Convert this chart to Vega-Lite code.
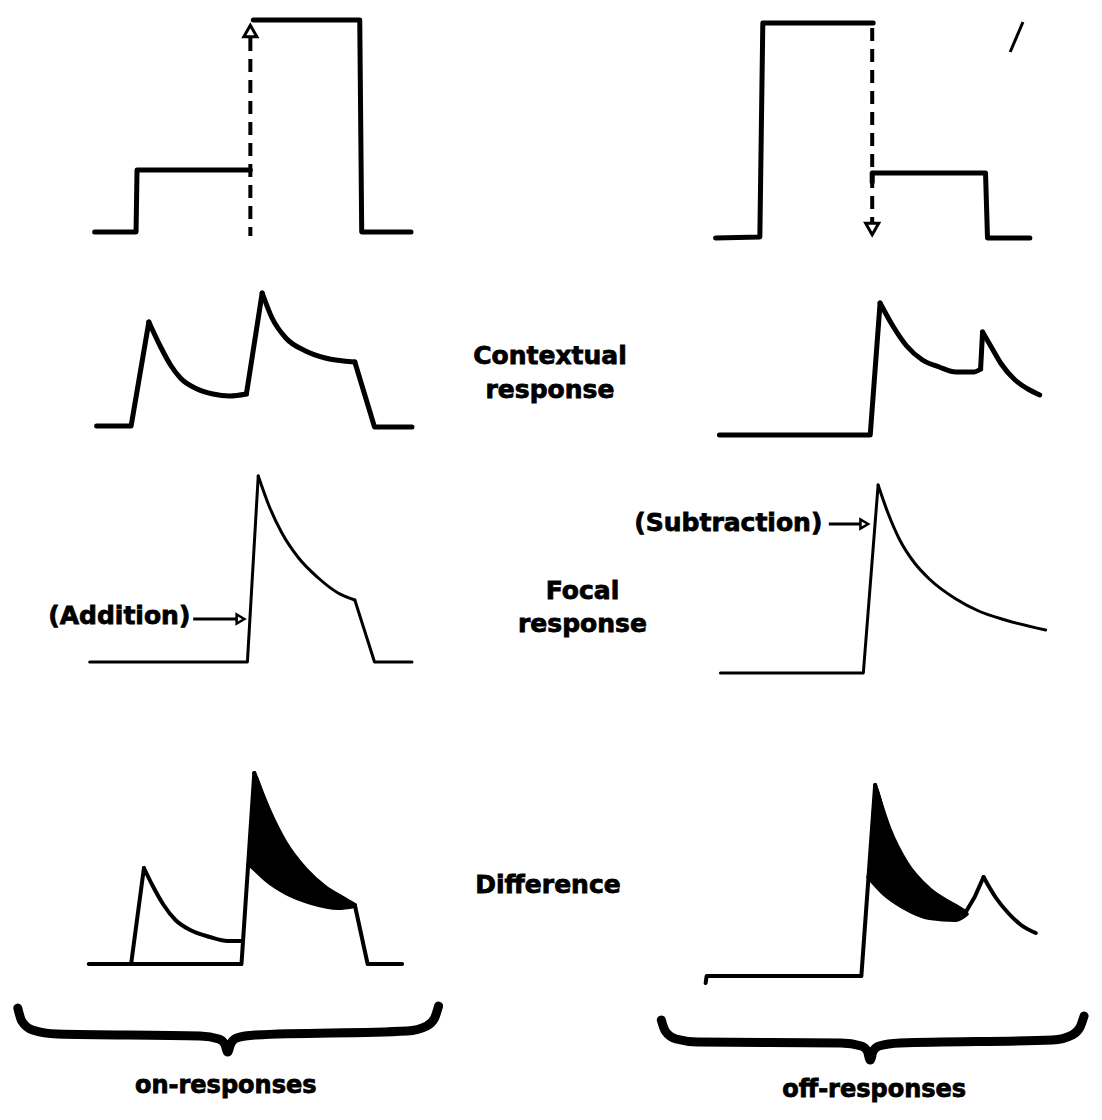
{
  "$schema": "https://vega.github.io/schema/vega-lite/v6.json",
  "width": 1102,
  "height": 1120,
  "autosize": {"type": "fit", "contains": "padding"},
  "padding": 0,
  "background": "white",
  "config": {"view": {"stroke": null}},
  "datasets": {
    "lines": [
      {"g": "w5", "s": "stimL1", "o": 1, "x": 93, "y": 232},
      {"g": "w5", "s": "stimL1", "o": 2, "x": 135, "y": 232},
      {"g": "w5", "s": "stimL1", "o": 3, "x": 136, "y": 170},
      {"g": "w5", "s": "stimL1", "o": 4, "x": 251, "y": 170},
      {"g": "w5", "s": "stimL2", "o": 1, "x": 254, "y": 20},
      {"g": "w5", "s": "stimL2", "o": 2, "x": 362, "y": 20},
      {"g": "w5", "s": "stimL2", "o": 3, "x": 364, "y": 232},
      {"g": "w5", "s": "stimL2", "o": 4, "x": 414, "y": 232},
      {"g": "w5", "s": "stimR1", "o": 1, "x": 723, "y": 238},
      {"g": "w5", "s": "stimR1", "o": 2, "x": 768, "y": 237},
      {"g": "w5", "s": "stimR1", "o": 3, "x": 771, "y": 23},
      {"g": "w5", "s": "stimR1", "o": 4, "x": 883, "y": 23},
      {"g": "w5", "s": "stimR2", "o": 1, "x": 882, "y": 182},
      {"g": "w5", "s": "stimR2", "o": 2, "x": 882, "y": 173},
      {"g": "w5", "s": "stimR2", "o": 3, "x": 997, "y": 173},
      {"g": "w5", "s": "stimR2", "o": 4, "x": 999, "y": 238},
      {"g": "w5", "s": "stimR2", "o": 5, "x": 1042, "y": 238},

      {"g": "w5", "s": "ctxLa", "o": 1, "x": 95, "y": 426},
      {"g": "w5", "s": "ctxLa", "o": 2, "x": 130, "y": 426},
      {"g": "w5", "s": "ctxLa", "o": 3, "x": 148, "y": 322},
      {"g": "w5", "s": "ctxLb", "o": 1, "x": 247, "y": 394},
      {"g": "w5", "s": "ctxLb", "o": 2, "x": 263, "y": 293},
      {"g": "w5", "s": "ctxLc", "o": 1, "x": 357, "y": 362},
      {"g": "w5", "s": "ctxLc", "o": 2, "x": 377, "y": 427},
      {"g": "w5", "s": "ctxLc", "o": 3, "x": 415, "y": 427},
      {"g": "c5", "s": "ctxLd1", "o": 1, "x": 148, "y": 322},
      {"g": "c5", "s": "ctxLd1", "o": 2, "x": 160, "y": 347},
      {"g": "c5", "s": "ctxLd1", "o": 3, "x": 170, "y": 365},
      {"g": "c5", "s": "ctxLd1", "o": 4, "x": 180, "y": 378},
      {"g": "c5", "s": "ctxLd1", "o": 5, "x": 197, "y": 389},
      {"g": "c5", "s": "ctxLd1", "o": 6, "x": 213, "y": 394},
      {"g": "c5", "s": "ctxLd1", "o": 7, "x": 230, "y": 396},
      {"g": "c5", "s": "ctxLd1", "o": 8, "x": 247, "y": 394},
      {"g": "c5", "s": "ctxLd2", "o": 1, "x": 263, "y": 293},
      {"g": "c5", "s": "ctxLd2", "o": 2, "x": 273, "y": 318},
      {"g": "c5", "s": "ctxLd2", "o": 3, "x": 287, "y": 338},
      {"g": "c5", "s": "ctxLd2", "o": 4, "x": 307, "y": 351},
      {"g": "c5", "s": "ctxLd2", "o": 5, "x": 327, "y": 358},
      {"g": "c5", "s": "ctxLd2", "o": 6, "x": 357, "y": 362},

      {"g": "w5", "s": "ctxRa", "o": 1, "x": 727, "y": 435},
      {"g": "w5", "s": "ctxRa", "o": 2, "x": 880, "y": 435},
      {"g": "w5", "s": "ctxRa", "o": 3, "x": 890, "y": 303},
      {"g": "w5", "s": "ctxRb", "o": 1, "x": 992, "y": 369},
      {"g": "w5", "s": "ctxRb", "o": 2, "x": 994, "y": 332},
      {"g": "c5", "s": "ctxRd1", "o": 1, "x": 890, "y": 303},
      {"g": "c5", "s": "ctxRd1", "o": 2, "x": 903, "y": 326},
      {"g": "c5", "s": "ctxRd1", "o": 3, "x": 917, "y": 346},
      {"g": "c5", "s": "ctxRd1", "o": 4, "x": 933, "y": 360},
      {"g": "c5", "s": "ctxRd1", "o": 5, "x": 950, "y": 367},
      {"g": "c5", "s": "ctxRd1", "o": 6, "x": 967, "y": 372},
      {"g": "c5", "s": "ctxRd1", "o": 7, "x": 985, "y": 372},
      {"g": "c5", "s": "ctxRd1", "o": 8, "x": 992, "y": 369},
      {"g": "c5", "s": "ctxRd2", "o": 1, "x": 994, "y": 332},
      {"g": "c5", "s": "ctxRd2", "o": 2, "x": 1004, "y": 349},
      {"g": "c5", "s": "ctxRd2", "o": 3, "x": 1013, "y": 364},
      {"g": "c5", "s": "ctxRd2", "o": 4, "x": 1027, "y": 380},
      {"g": "c5", "s": "ctxRd2", "o": 5, "x": 1040, "y": 389},
      {"g": "c5", "s": "ctxRd2", "o": 6, "x": 1052, "y": 395},

      {"g": "w3", "s": "focLa", "o": 1, "x": 88, "y": 662},
      {"g": "w3", "s": "focLa", "o": 2, "x": 248, "y": 662},
      {"g": "w3", "s": "focLa", "o": 3, "x": 259, "y": 476},
      {"g": "w3", "s": "focLb", "o": 1, "x": 357, "y": 600},
      {"g": "w3", "s": "focLb", "o": 2, "x": 377, "y": 662},
      {"g": "w3", "s": "focLb", "o": 3, "x": 415, "y": 662},
      {"g": "c3", "s": "focLd", "o": 1, "x": 259, "y": 476},
      {"g": "c3", "s": "focLd", "o": 2, "x": 270, "y": 506},
      {"g": "c3", "s": "focLd", "o": 3, "x": 283, "y": 533},
      {"g": "c3", "s": "focLd", "o": 4, "x": 300, "y": 558},
      {"g": "c3", "s": "focLd", "o": 5, "x": 320, "y": 578},
      {"g": "c3", "s": "focLd", "o": 6, "x": 340, "y": 593},
      {"g": "c3", "s": "focLd", "o": 7, "x": 357, "y": 600},

      {"g": "w3", "s": "focRa", "o": 1, "x": 728, "y": 673},
      {"g": "w3", "s": "focRa", "o": 2, "x": 873, "y": 673},
      {"g": "w3", "s": "focRa", "o": 3, "x": 888, "y": 485},
      {"g": "c3", "s": "focRd", "o": 1, "x": 888, "y": 485},
      {"g": "c3", "s": "focRd", "o": 2, "x": 898, "y": 513},
      {"g": "c3", "s": "focRd", "o": 3, "x": 910, "y": 540},
      {"g": "c3", "s": "focRd", "o": 4, "x": 925, "y": 563},
      {"g": "c3", "s": "focRd", "o": 5, "x": 940, "y": 579},
      {"g": "c3", "s": "focRd", "o": 6, "x": 967, "y": 599},
      {"g": "c3", "s": "focRd", "o": 7, "x": 990, "y": 611},
      {"g": "c3", "s": "focRd", "o": 8, "x": 1017, "y": 620},
      {"g": "c3", "s": "focRd", "o": 9, "x": 1058, "y": 630},

      {"g": "w4", "s": "difLa", "o": 1, "x": 87, "y": 964},
      {"g": "w4", "s": "difLa", "o": 2, "x": 242, "y": 964},
      {"g": "w4", "s": "difLa", "o": 3, "x": 255, "y": 773},
      {"g": "w4", "s": "difLb", "o": 1, "x": 357, "y": 905},
      {"g": "w4", "s": "difLb", "o": 2, "x": 370, "y": 964},
      {"g": "w4", "s": "difLb", "o": 3, "x": 405, "y": 964},
      {"g": "w4", "s": "difLc", "o": 1, "x": 130, "y": 964},
      {"g": "w4", "s": "difLc", "o": 2, "x": 143, "y": 868},
      {"g": "c4", "s": "difLu", "o": 1, "x": 255, "y": 773},
      {"g": "c4", "s": "difLu", "o": 2, "x": 270, "y": 810},
      {"g": "c4", "s": "difLu", "o": 3, "x": 287, "y": 843},
      {"g": "c4", "s": "difLu", "o": 4, "x": 307, "y": 869},
      {"g": "c4", "s": "difLu", "o": 5, "x": 327, "y": 887},
      {"g": "c4", "s": "difLu", "o": 6, "x": 345, "y": 898},
      {"g": "c4", "s": "difLu", "o": 7, "x": 357, "y": 905},
      {"g": "c4", "s": "difLbump", "o": 1, "x": 143, "y": 868},
      {"g": "c4", "s": "difLbump", "o": 2, "x": 152, "y": 886},
      {"g": "c4", "s": "difLbump", "o": 3, "x": 163, "y": 905},
      {"g": "c4", "s": "difLbump", "o": 4, "x": 175, "y": 920},
      {"g": "c4", "s": "difLbump", "o": 5, "x": 190, "y": 930},
      {"g": "c4", "s": "difLbump", "o": 6, "x": 210, "y": 937},
      {"g": "c4", "s": "difLbump", "o": 7, "x": 228, "y": 941},
      {"g": "c4", "s": "difLbump", "o": 8, "x": 243, "y": 941},
      {"g": "c4", "s": "difLl", "o": 1, "x": 249, "y": 864},
      {"g": "c4", "s": "difLl", "o": 2, "x": 255, "y": 869},
      {"g": "c4", "s": "difLl", "o": 3, "x": 267, "y": 880},
      {"g": "c4", "s": "difLl", "o": 4, "x": 287, "y": 893},
      {"g": "c4", "s": "difLl", "o": 5, "x": 313, "y": 903},
      {"g": "c4", "s": "difLl", "o": 6, "x": 340, "y": 908},
      {"g": "c4", "s": "difLl", "o": 7, "x": 357, "y": 906},

      {"g": "w4", "s": "difRa", "o": 1, "x": 713, "y": 983},
      {"g": "w4", "s": "difRa", "o": 2, "x": 714, "y": 976},
      {"g": "w4", "s": "difRa", "o": 3, "x": 871, "y": 976},
      {"g": "w4", "s": "difRa", "o": 4, "x": 885, "y": 785},
      {"g": "w4", "s": "difRb", "o": 1, "x": 977, "y": 912},
      {"g": "w4", "s": "difRb", "o": 2, "x": 986, "y": 897},
      {"g": "w4", "s": "difRb", "o": 3, "x": 995, "y": 877},
      {"g": "c4", "s": "difRu", "o": 1, "x": 885, "y": 785},
      {"g": "c4", "s": "difRu", "o": 2, "x": 900, "y": 830},
      {"g": "c4", "s": "difRu", "o": 3, "x": 917, "y": 863},
      {"g": "c4", "s": "difRu", "o": 4, "x": 940, "y": 889},
      {"g": "c4", "s": "difRu", "o": 5, "x": 967, "y": 906},
      {"g": "c4", "s": "difRu", "o": 6, "x": 977, "y": 912},
      {"g": "c4", "s": "difRd", "o": 1, "x": 995, "y": 877},
      {"g": "c4", "s": "difRd", "o": 2, "x": 1007, "y": 897},
      {"g": "c4", "s": "difRd", "o": 3, "x": 1020, "y": 913},
      {"g": "c4", "s": "difRd", "o": 4, "x": 1033, "y": 925},
      {"g": "c4", "s": "difRd", "o": 5, "x": 1048, "y": 933},
      {"g": "c4", "s": "difRl", "o": 1, "x": 878, "y": 877},
      {"g": "c4", "s": "difRl", "o": 2, "x": 893, "y": 893},
      {"g": "c4", "s": "difRl", "o": 3, "x": 913, "y": 907},
      {"g": "c4", "s": "difRl", "o": 4, "x": 940, "y": 918},
      {"g": "c4", "s": "difRl", "o": 5, "x": 967, "y": 920},
      {"g": "c4", "s": "difRl", "o": 6, "x": 978, "y": 914},

      {"g": "arrow", "s": "addA", "o": 1, "x": 193, "y": 619},
      {"g": "arrow", "s": "addA", "o": 2, "x": 238, "y": 619},
      {"g": "arrow", "s": "subA", "o": 1, "x": 838, "y": 524},
      {"g": "arrow", "s": "subA", "o": 2, "x": 871, "y": 524},
      {"g": "slash", "s": "sl", "o": 1, "x": 1022, "y": 52},
      {"g": "slash", "s": "sl", "o": 2, "x": 1035, "y": 22},
      {"g": "dash", "s": "dashL", "o": 1, "x": 251, "y": 38},
      {"g": "dash", "s": "dashL", "o": 2, "x": 251, "y": 236},
      {"g": "dash", "s": "dashR", "o": 1, "x": 882, "y": 28},
      {"g": "dash", "s": "dashR", "o": 2, "x": 882, "y": 222},
      {"g": "brace", "s": "brL", "o": 1, "x": 15, "y": 1008},
      {"g": "brace", "s": "brL", "o": 2, "x": 19, "y": 1021},
      {"g": "brace", "s": "brL", "o": 3, "x": 30, "y": 1030},
      {"g": "brace", "s": "brL", "o": 4, "x": 55, "y": 1034},
      {"g": "brace", "s": "brL", "o": 5, "x": 200, "y": 1036},
      {"g": "brace", "s": "brL", "o": 6, "x": 219, "y": 1039},
      {"g": "brace", "s": "brL", "o": 7, "x": 225, "y": 1044},
      {"g": "brace", "s": "brL", "o": 8, "x": 228, "y": 1052},
      {"g": "brace", "s": "brL", "o": 9, "x": 231, "y": 1044},
      {"g": "brace", "s": "brL", "o": 10, "x": 237, "y": 1038},
      {"g": "brace", "s": "brL", "o": 11, "x": 256, "y": 1035},
      {"g": "brace", "s": "brL", "o": 12, "x": 410, "y": 1031},
      {"g": "brace", "s": "brL", "o": 13, "x": 430, "y": 1026},
      {"g": "brace", "s": "brL", "o": 14, "x": 438, "y": 1018},
      {"g": "brace", "s": "brL", "o": 15, "x": 442, "y": 1006},
      {"g": "brace", "s": "brR", "o": 1, "x": 668, "y": 1020},
      {"g": "brace", "s": "brR", "o": 2, "x": 672, "y": 1031},
      {"g": "brace", "s": "brR", "o": 3, "x": 683, "y": 1039},
      {"g": "brace", "s": "brR", "o": 4, "x": 705, "y": 1042},
      {"g": "brace", "s": "brR", "o": 5, "x": 850, "y": 1043},
      {"g": "brace", "s": "brR", "o": 6, "x": 871, "y": 1046},
      {"g": "brace", "s": "brR", "o": 7, "x": 877, "y": 1051},
      {"g": "brace", "s": "brR", "o": 8, "x": 880, "y": 1060},
      {"g": "brace", "s": "brR", "o": 9, "x": 883, "y": 1051},
      {"g": "brace", "s": "brR", "o": 10, "x": 889, "y": 1046},
      {"g": "brace", "s": "brR", "o": 11, "x": 910, "y": 1043},
      {"g": "brace", "s": "brR", "o": 12, "x": 1065, "y": 1040},
      {"g": "brace", "s": "brR", "o": 13, "x": 1085, "y": 1035},
      {"g": "brace", "s": "brR", "o": 14, "x": 1093, "y": 1027},
      {"g": "brace", "s": "brR", "o": 15, "x": 1097, "y": 1016}
    ],
    "fills": [
      {"s": "L", "x": 249, "up": 861, "lo": 864},
      {"s": "L", "x": 255, "up": 773, "lo": 869},
      {"s": "L", "x": 270, "up": 810, "lo": 881},
      {"s": "L", "x": 287, "up": 843, "lo": 893},
      {"s": "L", "x": 307, "up": 869, "lo": 901},
      {"s": "L", "x": 327, "up": 887, "lo": 906},
      {"s": "L", "x": 345, "up": 898, "lo": 908},
      {"s": "L", "x": 357, "up": 905, "lo": 906},
      {"s": "R", "x": 878, "up": 876, "lo": 877},
      {"s": "R", "x": 885, "up": 785, "lo": 885},
      {"s": "R", "x": 900, "up": 830, "lo": 898},
      {"s": "R", "x": 917, "up": 863, "lo": 909},
      {"s": "R", "x": 940, "up": 889, "lo": 918},
      {"s": "R", "x": 967, "up": 906, "lo": 920},
      {"s": "R", "x": 977, "up": 912, "lo": 915}
    ],
    "marks": [
      {"k": "up", "x": 251, "y": 31},
      {"k": "down", "x": 882, "y": 229},
      {"k": "right", "x": 241, "y": 619},
      {"k": "right", "x": 874, "y": 524}
    ],
    "labels": [
      {"k": "mid", "t": "Contextual", "x": 555, "y": 356},
      {"k": "mid", "t": "response", "x": 555, "y": 390},
      {"k": "mid", "t": "Focal", "x": 588, "y": 591},
      {"k": "mid", "t": "response", "x": 588, "y": 624},
      {"k": "mid", "t": "Difference", "x": 553, "y": 885},
      {"k": "mid", "t": "(Addition)", "x": 118, "y": 616},
      {"k": "mid", "t": "(Subtraction)", "x": 736, "y": 523},
      {"k": "foot", "t": "on-responses", "x": 226, "y": 1086},
      {"k": "foot", "t": "off-responses", "x": 884, "y": 1090}
    ]
  },
  "encoding": {
    "x": {"field": "x", "type": "quantitative", "scale": {"domain": [0, 1102], "nice": false, "zero": false}, "axis": null},
    "y": {"field": "y", "type": "quantitative", "scale": {"domain": [0, 1120], "nice": false, "zero": false, "reverse": true}, "axis": null}
  },
  "layer": [
    {
      "data": {"name": "fills"},
      "mark": {"type": "area", "color": "black", "opacity": 1, "interpolate": "monotone"},
      "encoding": {
        "y": {"field": "up", "type": "quantitative"},
        "y2": {"field": "lo"},
        "detail": {"field": "s"}
      }
    },
    {
      "data": {"name": "lines"},
      "transform": [{"filter": "datum.g === 'w5'"}],
      "mark": {"type": "line", "color": "black", "strokeWidth": 5, "strokeJoin": "round", "strokeCap": "round"},
      "encoding": {"detail": {"field": "s"}, "order": {"field": "o"}}
    },
    {
      "data": {"name": "lines"},
      "transform": [{"filter": "datum.g === 'c5'"}],
      "mark": {"type": "line", "color": "black", "strokeWidth": 5, "strokeJoin": "round", "strokeCap": "round", "interpolate": "monotone"},
      "encoding": {"detail": {"field": "s"}, "order": {"field": "o"}}
    },
    {
      "data": {"name": "lines"},
      "transform": [{"filter": "datum.g === 'w4'"}],
      "mark": {"type": "line", "color": "black", "strokeWidth": 4, "strokeJoin": "round", "strokeCap": "round"},
      "encoding": {"detail": {"field": "s"}, "order": {"field": "o"}}
    },
    {
      "data": {"name": "lines"},
      "transform": [{"filter": "datum.g === 'c4'"}],
      "mark": {"type": "line", "color": "black", "strokeWidth": 4, "strokeJoin": "round", "strokeCap": "round", "interpolate": "monotone"},
      "encoding": {"detail": {"field": "s"}, "order": {"field": "o"}}
    },
    {
      "data": {"name": "lines"},
      "transform": [{"filter": "datum.g === 'w3'"}],
      "mark": {"type": "line", "color": "black", "strokeWidth": 3, "strokeJoin": "round", "strokeCap": "round"},
      "encoding": {"detail": {"field": "s"}, "order": {"field": "o"}}
    },
    {
      "data": {"name": "lines"},
      "transform": [{"filter": "datum.g === 'c3'"}],
      "mark": {"type": "line", "color": "black", "strokeWidth": 3, "strokeJoin": "round", "strokeCap": "round", "interpolate": "monotone"},
      "encoding": {"detail": {"field": "s"}, "order": {"field": "o"}}
    },
    {
      "data": {"name": "lines"},
      "transform": [{"filter": "datum.g === 'arrow' || datum.g === 'slash'"}],
      "mark": {"type": "line", "color": "black", "strokeWidth": 3},
      "encoding": {"detail": {"field": "s"}, "order": {"field": "o"}}
    },
    {
      "data": {"name": "lines"},
      "transform": [{"filter": "datum.g === 'dash'"}],
      "mark": {"type": "line", "color": "black", "strokeWidth": 4, "strokeDash": [13, 8]},
      "encoding": {"detail": {"field": "s"}, "order": {"field": "o"}}
    },
    {
      "data": {"name": "lines"},
      "transform": [{"filter": "datum.g === 'brace'"}],
      "mark": {"type": "line", "color": "black", "strokeWidth": 9, "interpolate": "monotone", "strokeCap": "round"},
      "encoding": {"detail": {"field": "s"}, "order": {"field": "o"}}
    },
    {
      "data": {"name": "marks"},
      "transform": [{"filter": "datum.k === 'up'"}],
      "mark": {"type": "point", "shape": "triangle-up", "size": 170, "filled": true, "fill": "white", "stroke": "black", "strokeWidth": 3, "opacity": 1}
    },
    {
      "data": {"name": "marks"},
      "transform": [{"filter": "datum.k === 'down'"}],
      "mark": {"type": "point", "shape": "triangle-down", "size": 170, "filled": true, "fill": "white", "stroke": "black", "strokeWidth": 3, "opacity": 1}
    },
    {
      "data": {"name": "marks"},
      "transform": [{"filter": "datum.k === 'right'"}],
      "mark": {"type": "point", "shape": "triangle-right", "size": 80, "filled": true, "fill": "white", "stroke": "black", "strokeWidth": 2.5, "opacity": 1}
    },
    {
      "data": {"name": "labels"},
      "transform": [{"filter": "datum.k === 'mid'"}],
      "mark": {"type": "text", "font": "DejaVu Sans", "fontWeight": "bold", "fontSize": 25, "fill": "black", "stroke": "black", "strokeWidth": 0.8, "align": "center", "baseline": "middle"},
      "encoding": {"text": {"field": "t"}}
    },
    {
      "data": {"name": "labels"},
      "transform": [{"filter": "datum.k === 'foot'"}],
      "mark": {"type": "text", "font": "DejaVu Sans", "fontWeight": "bold", "fontSize": 24, "fill": "black", "stroke": "black", "strokeWidth": 0.8, "align": "center", "baseline": "middle"},
      "encoding": {"text": {"field": "t"}}
    }
  ]
}
